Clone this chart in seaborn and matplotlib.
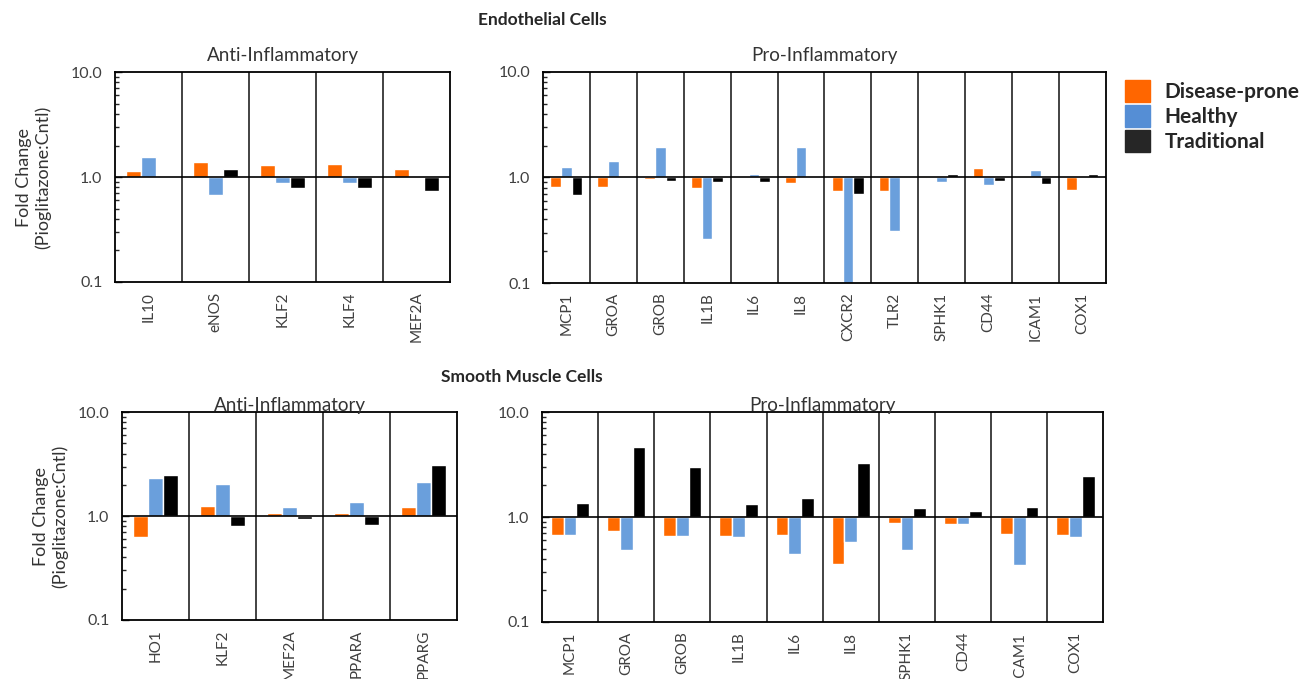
import numpy as np
import pandas as pd
import matplotlib.pyplot as plt
import seaborn as sns
import matplotlib.patches as mpatches
from matplotlib.ticker import FixedLocator

# Groups and colours
groups = ["Disease-prone", "Healthy", "Traditional"]
bar_colors = ["#FF6A00", "#6A9FDC", "#000000"]
legend_colors = ["#FF6600", "#558ED5", "#262626"]

# Endothelial cells - anti-inflammatory
ec_anti_genes = ["IL10", "eNOS", "KLF2", "KLF4", "MEF2A"]
ec_anti_dp = [1.14, 1.40, 1.31, 1.33, 1.20]
ec_anti_h = [1.56, 0.67, 0.875, 0.88, 0.97]
ec_anti_t = [1.0, 1.19, 0.78, 0.79, 0.73]

# Endothelial cells - pro-inflammatory
ec_pro_genes = ["MCP1", "GROA", "GROB", "IL1B", "IL6", "IL8", "CXCR2", "TLR2",
                "SPHK1", "CD44", "ICAM1", "COX1"]
ec_pro_dp = [0.82, 0.82, 0.96, 0.80, 1.01, 0.88, 0.74, 0.75, 0.99, 1.23, 0.98, 0.76]
ec_pro_h = [1.26, 1.44, 1.95, 0.26, 1.08, 1.95, 0.10, 0.31, 0.90, 0.85, 1.17, 0.98]
ec_pro_t = [0.68, 1.02, 0.92, 0.91, 0.91, 1.04, 0.70, 1.0, 1.07, 0.92, 0.87, 1.08]

# Smooth muscle cells - anti-inflammatory
smc_anti_genes = ["HO1", "KLF2", "MEF2A", "PPARA", "PPARG"]
smc_anti_dp = [0.63, 1.25, 1.08, 1.07, 1.23]
smc_anti_h = [2.35, 2.06, 1.22, 1.38, 2.14]
smc_anti_t = [2.50, 0.80, 0.93, 0.82, 3.12]

# Smooth muscle cells - pro-inflammatory
smc_pro_genes = ["MCP1", "GROA", "GROB", "IL1B", "IL6", "IL8", "SPHK1", "CD44",
                 "ICAM1", "COX1"]
smc_pro_dp = [0.68, 0.74, 0.665, 0.665, 0.675, 0.355, 0.88, 0.86, 0.685, 0.67]
smc_pro_h = [0.68, 0.48, 0.655, 0.64, 0.44, 0.575, 0.48, 0.86, 0.35, 0.65]
smc_pro_t = [1.37, 4.65, 3.00, 1.34, 1.53, 3.30, 1.21, 1.13, 1.25, 2.44]

sns.set_style("white")
plt.rcParams["font.family"] = ["Lato", "DejaVu Sans"]

fig = plt.figure(figsize=(13.09, 6.79), dpi=100)


def draw_panel(rect, genes, dp, h, t, subtitle, title_pad, ylabel_x=None):
    ax = fig.add_axes(rect)
    n = len(genes)
    df = pd.DataFrame({
        "gene": genes * 3,
        "group": [g for g in groups for _ in genes],
        "fc": dp + h + t,
    })
    # bars are drawn from 1.0 on a log10 axis
    df["logfc"] = np.log10(df["fc"])
    sns.barplot(data=df, x="gene", y="logfc", hue="group", hue_order=groups,
                palette=bar_colors, width=0.68, saturation=1, legend=False, ax=ax)
    ax.set_ylim(-1, 1)
    ax.set_xlim(-0.5, n - 0.5)
    ax.set_yticks([-1, 0, 1], ["0.1", "1.0", "10.0"])
    minor = [np.log10(k * 10.0 ** e) for e in (-1, 0) for k in range(2, 10)]
    ax.yaxis.set_minor_locator(FixedLocator(minor))
    ax.tick_params(axis="y", which="major", direction="in", left=True, length=5,
                   width=1, labelsize=11.5, labelcolor="#404040", pad=9)
    ax.tick_params(axis="y", which="minor", direction="in", left=True, length=3, width=1)
    ax.tick_params(axis="x", length=0, labelrotation=90, labelsize=11,
                   labelcolor="#404040", pad=7)
    ax.axhline(0, color="black", lw=1.2, zorder=3)
    for i in range(1, n):
        ax.axvline(i - 0.5, color="#222222", lw=1.2)
    for s in ax.spines.values():
        s.set_color("black")
        s.set_linewidth(1.3)
    ax.set_xlabel("")
    if ylabel_x is not None:
        ax.set_ylabel("Fold Change\n(Pioglitazone:Cntl)", fontsize=13, color="#333333")
        ax.yaxis.set_label_coords(ylabel_x, 0.5)
    else:
        ax.set_ylabel("")
    ax.set_title(subtitle, fontsize=13.5, color="#333333", pad=title_pad)
    return ax


draw_panel([0.0879, 0.5847, 0.256, 0.309], ec_anti_genes, ec_anti_dp, ec_anti_h,
           ec_anti_t, "Anti-Inflammatory", 8, ylabel_x=-0.19)
draw_panel([0.4148, 0.5832, 0.430, 0.311], ec_pro_genes, ec_pro_dp, ec_pro_h,
           ec_pro_t, "Pro-Inflammatory", 8)
draw_panel([0.0932, 0.0869, 0.256, 0.306], smc_anti_genes, smc_anti_dp, smc_anti_h,
           smc_anti_t, "Anti-Inflammatory", 1, ylabel_x=-0.16)
draw_panel([0.4140, 0.0840, 0.429, 0.309], smc_pro_genes, smc_pro_dp, smc_pro_h,
           smc_pro_t, "Pro-Inflammatory", 1)

fig.text(542 / 1309, 1 - 20 / 679, "Endothelial Cells", fontsize=12.5, fontweight="bold",
         ha="center", va="center")
fig.text(522 / 1309, 1 - 377 / 679, "Smooth Muscle Cells", fontsize=12.5, fontweight="bold",
         ha="center", va="center")

handles = [mpatches.Patch(color=c, label=g) for g, c in zip(groups, legend_colors)]
fig.legend(handles=handles, loc="upper left", bbox_to_anchor=(1125 / 1309, 1 - 80 / 679),
           frameon=False, prop={"size": 15, "weight": "bold"}, borderpad=0,
           borderaxespad=0, handlelength=1.2, handleheight=1.25, labelspacing=0.15,
           handletextpad=0.7)

fig.savefig("out.png", dpi=100)
